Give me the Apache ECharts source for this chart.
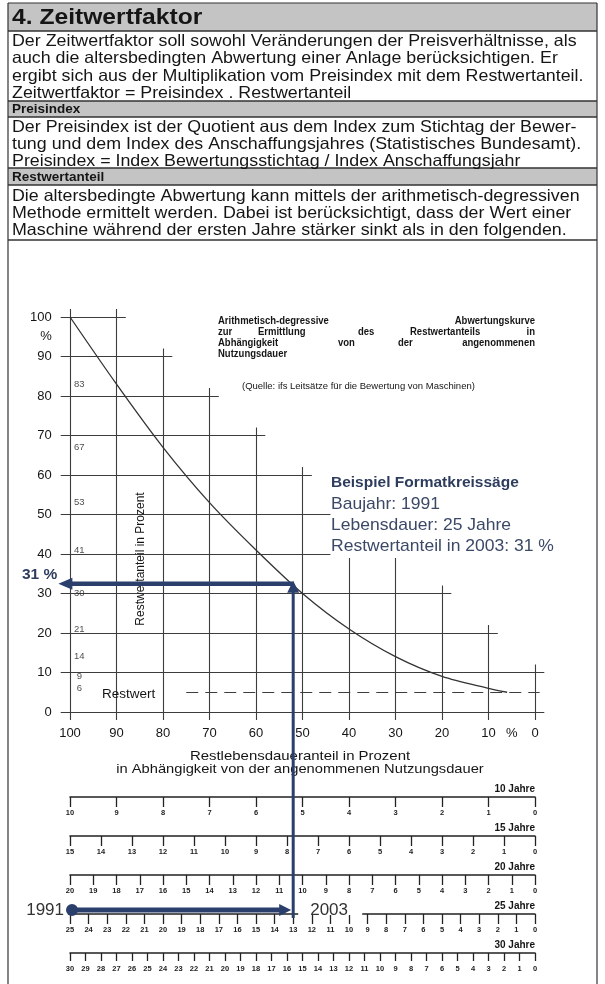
<!DOCTYPE html>
<html>
<head>
<meta charset="utf-8">
<script src="https://cdn.jsdelivr.net/npm/echarts@6/dist/echarts.min.js"></script>
<style>
html, body { margin: 0; padding: 0; background: #fff; }
#chart { width: 605px; height: 984px; }
</style>
</head>
<body>
<div id="chart"></div>
<script>
// Restlebensdaueranteil (%) -> Restwertanteil (%)
const restLifePct = [100, 90, 80, 70, 60, 50, 40, 30, 20, 10, 6];
const residualPct = [100, 83, 67, 53, 41, 30, 21, 14, 9, 6, 5];
// numbers printed beside the 100 % line
const printedValues = [83, 67, 53, 41, 30, 21, 14, 9, 6];
// staircase grid: horizontal lines and where they stop
const hLineY = [100, 90, 80, 70, 60, 50, 40, 30, 20, 10, 0];
const hLineEnd = [88, 78, 68, 58, 48, 44, 44, 18, 8, -2, -2];
// vertical lines and how high they go
const vLineX = [100, 90, 80, 70, 60, 50, 40, 30, 20, 10, 0];
const vLineTop = [102, 102, 92, 82, 72, 62, 39, 39, 32, 22, 12];
const restwertLevel = 5;
const restwertFrom = 75;
const xTicks = [100, 90, 80, 70, 60, 50, 40, 30, 20, 10, 5, 0];
const yTicks = [100, 95, 90, 80, 70, 60, 50, 40, 30, 20, 10, 0];
// Nutzungsdauer scales (Jahre)
const scaleYears = [10, 15, 20, 25, 30];
// Beispiel Formatkreissäge
const exampleBuilt = 1991;
const exampleYear = 2003;
const exampleLife = 25;
const exampleRestLife = 52;   // 13 von 25 Jahren
const exampleResidual = 31;
const exampleArrowY = 32.5;   // arrow as drawn on the sheet

const FONT = '"Liberation Sans", Arial, sans-serif';
const BLUE = '#2b3f6c';
const rulerTops = [797, 836, 875, 914, 953];

let chart = echarts.init(document.getElementById('chart'));

// --- page boxes and texts ---
function txt(text, x, y, size, opts) {
  opts = opts || {};
  return {
    type: 'text', z: opts.z || 50,
    x: x, y: y,
    scaleX: opts.sx || 1,
    style: {
      text: text, x: 0, y: 0,
      font: (opts.bold ? 'bold ' : '') + size + 'px ' + FONT,
      fill: opts.color || '#151515',
      textAlign: opts.align || 'left', align: opts.align || 'left',
      textVerticalAlign: 'middle', verticalAlign: 'middle'
    },
    rotation: opts.rotation || 0
  };
}
function hline(y, w) {
  return { type: 'line', z: 40, shape: { x1: 8, y1: y, x2: 597, y2: y }, style: { stroke: '#333', lineWidth: w || 1.2 } };
}
function bar(y1, y2) {
  return { type: 'rect', z: 30, shape: { x: 8, y: y1, width: 589, height: y2 - y1 }, style: { fill: '#c4c4c4' } };
}
const body = { sx: 1.08 };

const pageGraphic = [
  bar(3, 31), bar(101, 117), bar(168, 185),
  hline(3), hline(31, 1.5), hline(101, 1.5), hline(117, 1.5), hline(168, 1.5), hline(185, 1.5), hline(240, 1.5),
  { type: 'line', z: 40, shape: { x1: 8, y1: 3, x2: 8, y2: 984 }, style: { stroke: '#333', lineWidth: 1.2 } },
  { type: 'line', z: 40, shape: { x1: 597, y1: 3, x2: 597, y2: 984 }, style: { stroke: '#333', lineWidth: 1.2 } },
  txt('4. Zeitwertfaktor', 12, 18, 22, { bold: true, sx: 1.12 }),
  txt('Der Zeitwertfaktor soll sowohl Veränderungen der Preisverhältnisse, als', 12, 41, 16.5, body),
  txt('auch die altersbedingten Abwertung einer Anlage berücksichtigen. Er', 12, 58.5, 16.5, body),
  txt('ergibt sich aus der Multiplikation vom Preisindex mit dem Restwertanteil.', 12, 76, 16.5, body),
  txt('Zeitwertfaktor = Preisindex . Restwertanteil', 12, 93.5, 16.5, body),
  txt('Preisindex', 12, 109, 13.5, { bold: true }),
  txt('Der Preisindex ist der Quotient aus dem Index zum Stichtag der Bewer-', 12, 127, 16.5, body),
  txt('tung und dem Index des Anschaffungsjahres (Statistisches Bundesamt).', 12, 144.5, 16.5, body),
  txt('Preisindex = Index Bewertungsstichtag / Index Anschaffungsjahr', 12, 161.5, 16.5, body),
  txt('Restwertanteil', 12, 177, 13.5, { bold: true }),
  txt('Die altersbedingte Abwertung kann mittels der arithmetisch-degressiven', 12, 196, 16.5, body),
  txt('Methode ermittelt werden. Dabei ist berücksichtigt, dass der Wert einer', 12, 213, 16.5, body),
  txt('Maschine während der ersten Jahre stärker sinkt als in den folgenden.', 12, 230.5, 16.5, body),

  // chart heading, justified word by word
  txt('Arithmetisch-degressive', 218, 321, 10, { bold: true, sx: 0.95 }),
  txt('Abwertungskurve', 535, 321, 10, { bold: true, align: 'right', sx: 0.95 }),
  txt('zur', 218, 332, 10, { bold: true, sx: 0.95 }),
  txt('Ermittlung', 258, 332, 10, { bold: true, sx: 0.95 }),
  txt('des', 358, 332, 10, { bold: true, sx: 0.95 }),
  txt('Restwertanteils', 410, 332, 10, { bold: true, sx: 0.95 }),
  txt('in', 535, 332, 10, { bold: true, align: 'right', sx: 0.95 }),
  txt('Abhängigkeit', 218, 343, 10, { bold: true, sx: 0.95 }),
  txt('von', 338, 343, 10, { bold: true, sx: 0.95 }),
  txt('der', 398, 343, 10, { bold: true, sx: 0.95 }),
  txt('angenommenen', 535, 343, 10, { bold: true, align: 'right', sx: 0.95 }),
  txt('Nutzungsdauer', 218, 354, 10, { bold: true, sx: 0.95 }),
  txt('(Quelle: ifs Leitsätze für die Bewertung von Maschinen)', 242, 386, 9.5),

  txt('Beispiel Formatkreissäge', 331, 483, 15.5, { bold: true, color: '#2e3d5e' }),
  txt('Baujahr: ' + exampleBuilt, 331, 504, 17, { color: '#3b4866', sx: 1.03 }),
  txt('Lebensdauer: ' + exampleLife + ' Jahre', 331, 525, 17, { color: '#3b4866', sx: 1.03 }),
  txt('Restwertanteil in ' + exampleYear + ': ' + exampleResidual + ' %', 331, 546, 17, { color: '#3b4866', sx: 1.03 }),

  txt('Restwertanteil in Prozent', 141, 559, 12, { align: 'center', rotation: Math.PI / 2 }),
  txt('Restwert', 102, 694, 13.5),
  txt('Restlebensdaueranteil in Prozent', 300, 756, 13, { align: 'center', sx: 1.15 }),
  txt('in Abhängigkeit von der angenommenen Nutzungsdauer', 300, 769, 13, { align: 'center', sx: 1.13 })
];
scaleYears.forEach(function (n, i) {
  pageGraphic.push(txt(n + ' Jahre', 535, rulerTops[i] - 8, 10, { bold: true, align: 'right' }));
});

// --- grids: main chart + five rulers ---
const grids = [{ left: 60.7, right: 60.7, top: 309.1, height: 410.8 }];
const xAxes = [{
  gridIndex: 0, type: 'value', min: -2, max: 102, inverse: true,
  axisLine: { show: false }, axisTick: { show: false }, splitLine: { show: false },
  axisLabel: {
    customValues: xTicks, margin: 7, color: '#151515', fontSize: 13, fontFamily: FONT,
    formatter: function (v) { return v === 5 ? '%' : String(v); }
  }
}];
const yAxes = [{
  gridIndex: 0, type: 'value', min: -2, max: 102,
  axisLine: { show: false }, axisTick: { show: false }, splitLine: { show: false },
  axisLabel: {
    customValues: yTicks, margin: 9, color: '#151515', fontSize: 13, fontFamily: FONT,
    formatter: function (v) { return v === 95 ? '%' : String(v); }
  }
}];
scaleYears.forEach(function (n, i) {
  grids.push({ left: 70, right: 70, top: rulerTops[i], height: 10 });
  xAxes.push({
    gridIndex: i + 1, type: 'value', min: 0, max: n, interval: 1, inverse: true, position: 'top',
    axisLine: { onZero: false, lineStyle: { color: '#222', width: 1.5 } },
    axisTick: { inside: true, length: n === 30 ? 8 : 10, lineStyle: { color: '#222', width: 1.3 } },
    axisLabel: { inside: true, margin: 12, fontSize: 7.5, fontWeight: 'bold', color: '#222', fontFamily: FONT },
    splitLine: { show: false }
  });
  yAxes.push({ gridIndex: i + 1, type: 'value', min: 0, max: 1, show: false });
});

const gridColor = '#3c3c3c';
chart.setOption({
  animation: false,
  backgroundColor: '#fff',
  textStyle: { fontFamily: FONT },
  grid: grids,
  xAxis: xAxes,
  yAxis: yAxes,
  graphic: pageGraphic,
  series: [
    {
      type: 'lines', coordinateSystem: 'cartesian2d', xAxisIndex: 0, yAxisIndex: 0, silent: true,
      lineStyle: { color: gridColor, width: 1.1, opacity: 1 },
      data: hLineY.map(function (y, i) { return { coords: [[102, y], [hLineEnd[i], y]] }; })
        .concat(vLineX.map(function (x, i) { return { coords: [[x, -2], [x, vLineTop[i]]] }; }))
    },
    {
      type: 'lines', coordinateSystem: 'cartesian2d', xAxisIndex: 0, yAxisIndex: 0, silent: true,
      lineStyle: { color: gridColor, width: 1.1, opacity: 1, type: [12, 7] },
      data: [{ coords: [[restwertFrom, restwertLevel], [-1, restwertLevel]] }]
    },
    {
      type: 'line', xAxisIndex: 0, yAxisIndex: 0, smooth: 0.3, showSymbol: false, silent: true,
      lineStyle: { color: '#333', width: 1.3 },
      data: restLifePct.map(function (x, i) { return [x, residualPct[i]]; })
    },
    {
      type: 'scatter', xAxisIndex: 0, yAxisIndex: 0, symbolSize: 1, silent: true,
      itemStyle: { color: 'rgba(0,0,0,0)' },
      label: {
        show: true, position: 'inside', fontSize: 9.5, color: '#222', fontFamily: FONT,
        formatter: function (p) { return p.value[1]; }
      },
      data: printedValues.map(function (v) { return [98, v]; })
    }
  ]
});

// --- blue example arrows, placed through the axes ---
const pTop = chart.convertToPixel({ gridIndex: 0 }, [exampleRestLife, exampleArrowY]);
const pLeft = chart.convertToPixel({ gridIndex: 0 }, [102.5, exampleArrowY]);
const rIdx = scaleYears.indexOf(exampleLife) + 1;
const yearsLeft = exampleLife - (exampleYear - exampleBuilt);
const pStart = chart.convertToPixel({ gridIndex: rIdx }, [exampleLife, 1]);
const pEnd = chart.convertToPixel({ gridIndex: rIdx }, [yearsLeft, 1]);
const ay = pStart[1] - 4;
const vx = pEnd[0];

chart.setOption({
  graphic: pageGraphic.concat([
    { type: 'rect', z: 60, shape: { x: vx + 5, y: ay - 8, width: 64, height: 13 }, style: { fill: '#fff' } },
    txt(String(exampleBuilt), pStart[0] - 6, ay, 17, { align: 'right', color: '#333', z: 65 }),
    txt(String(exampleYear), vx + 17, ay, 17, { color: '#333', z: 65 }),
    { type: 'line', z: 70, shape: { x1: vx, y1: pTop[1] + 6, x2: vx, y2: pStart[1] + 4 }, style: { stroke: BLUE, lineWidth: 3 } },
    { type: 'polygon', z: 71, shape: { points: [[vx, pTop[1] - 3], [vx - 6, pTop[1] + 9], [vx + 6, pTop[1] + 9]] }, style: { fill: BLUE } },
    { type: 'line', z: 70, shape: { x1: vx, y1: pTop[1], x2: pLeft[0] + 10, y2: pTop[1] }, style: { stroke: BLUE, lineWidth: 4.5 } },
    { type: 'polygon', z: 71, shape: { points: [[pLeft[0], pTop[1]], [pLeft[0] + 14, pTop[1] - 6], [pLeft[0] + 14, pTop[1] + 6]] }, style: { fill: BLUE } },
    txt(exampleResidual + ' %', 22, pTop[1] - 9, 15.5, { bold: true, color: '#2e3d5e', z: 65 }),
    { type: 'line', z: 70, shape: { x1: pStart[0], y1: ay, x2: vx - 12, y2: ay }, style: { stroke: BLUE, lineWidth: 5 } },
    { type: 'polygon', z: 71, shape: { points: [[vx - 2, ay], [vx - 14, ay - 6], [vx - 14, ay + 6]] }, style: { fill: BLUE } },
    { type: 'circle', z: 71, shape: { cx: pStart[0] + 2, cy: ay, r: 6 }, style: { fill: BLUE } }
  ])
});
</script>
</body>
</html>
